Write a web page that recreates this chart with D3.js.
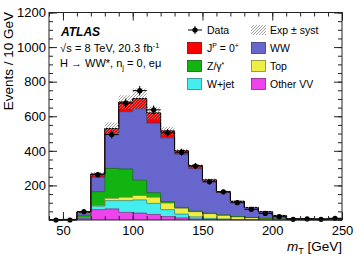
<!DOCTYPE html>
<html><head><meta charset="utf-8">
<script src="https://cdn.jsdelivr.net/npm/d3@7"></script>
<style>body{margin:0;background:#fff} svg{display:block} text{font-family:"Liberation Sans",Arial,sans-serif;fill:#000}</style>
</head><body><svg id="c" width="357" height="257"></svg>
<script>
// bin lower edges (GeV), 10 GeV bins
const binLow   = [40,50,60,70,80,90,100,110,120,130,140,150,160,170,180,190,200,210,220,230,240];
const otherVV  = [0,0.5,9,60,64,44,40,32,20,12,6,3,2,1,1,0.5,0.3,0.2,0.2,0.1,0.1];
const wjet     = [0,0.5,4,20,48,68,76,64,40,22,12,6,4,2,1,1,0.5,0.3,0.2,0.2,0.2];
const topq     = [0,0.2,2,4,14,20,26,36,38,34,30,28,22,16,12,8,5,2,2,1.5,2];
const zgamma   = [0,1,10,80,172,163,88,26,8,5,3,2,1,1,0.5,0.3,0.2,0.1,0.1,0.1,0.1];
const ww       = [0,1,20,84,204,332,414,403,369,308,246,186,130,86,57,38,20,4,4,3.5,5];
const higgs    = [0,0,1,18,27,55,58,58,40,19,17,7,4,2,1,0.5,0.3,0.1,0.1,0.1,0.1];
const dataVals = [0,0,48,262,494,676,748,637,504,392,312,221,163,100,62,38,19,4,6,4,10];
const systUnc  = [0,0.5,4,12,35,40,58,36,24,12,10,8,6,5,4,3,2,1,1,1,1];
const xTicks   = [50,100,150,200,250];
const yTicks   = [200,400,600,800,1000,1200];

const layers = [
  {key:"otherVV", vals:otherVV, color:"#ee44ee", label:"Other VV"},
  {key:"wjet",    vals:wjet,    color:"#44eeee", label:"W+jet"},
  {key:"top",     vals:topq,    color:"#eeee44", label:"Top"},
  {key:"zgamma",  vals:zgamma,  color:"#11b411", label:"Z/γ*"},
  {key:"ww",      vals:ww,      color:"#6666cc", label:"WW"},
  {key:"higgs",   vals:higgs,   color:"#ff0000", label:"JP"}
];

const svg = d3.select("#c");
const L=49, R=342, T=12.5, B=220, binW=10;
const x = d3.scaleLinear().domain([40,250]).range([L,R]);
const y = d3.scaleLinear().domain([0,1200]).range([B,T]);

const defs = svg.append("defs");
const pat = defs.append("pattern").attr("id","hatch").attr("patternUnits","userSpaceOnUse")
  .attr("width",3).attr("height",3);
pat.append("path").attr("d","M-1,1 l2,-2 M0,3 l3,-3 M2,4 l2,-2").attr("stroke","#8a8a8a").attr("stroke-width",0.8);

const rows = binLow.map((b,i)=>{const r={lo:b}; layers.forEach(l=>r[l.key]=l.vals[i]); return r;});
const stack = d3.stack().keys(layers.map(l=>l.key))(rows);

const pts = s => s.flatMap((d,i)=>[{x:binLow[i],y0:d[0],y1:d[1]},{x:binLow[i]+binW,y0:d[0],y1:d[1]}]);
const area = d3.area().x(d=>x(d.x)).y0(d=>y(d.y0)).y1(d=>y(d.y1));
const line = d3.line().x(d=>x(d.x)).y(d=>y(d.y1));

const g = svg.append("g");
stack.forEach((s,k)=>{
  const p = pts(s);
  g.append("path").attr("d",area(p)).attr("fill",layers[k].color);
});
stack.forEach((s,k)=>{
  const p = pts(s);
  g.append("path").attr("d",line(p)).attr("fill","none")
   .attr("stroke", d3.color(layers[k].color).darker(1.6)).attr("stroke-width",0.8);
});
// total outline
const totals = binLow.map((b,i)=>layers.reduce((a,l)=>a+l.vals[i],0));
const totPts = totals.flatMap((t,i)=>[{x:binLow[i],y1:t},{x:binLow[i]+binW,y1:t}]);
g.append("path").attr("d",line(totPts)).attr("fill","none").attr("stroke","#000").attr("stroke-width",1);

// uncertainty hatch
const uncPts = totals.flatMap((t,i)=>[{x:binLow[i],y0:Math.max(0,t-systUnc[i]),y1:t+systUnc[i]},{x:binLow[i]+binW,y0:Math.max(0,t-systUnc[i]),y1:t+systUnc[i]}]);
g.append("path").attr("d",area(uncPts)).attr("fill","url(#hatch)");

// data
const dg = svg.append("g");
binLow.forEach((b,i)=>{
  const cx = x(b+binW/2), cy = y(dataVals[i]), e = Math.sqrt(dataVals[i]);
  dg.append("line").attr("x1",x(b)).attr("x2",x(b+binW)).attr("y1",cy).attr("y2",cy).attr("stroke","#000").attr("stroke-width",1);
  if(e>0) dg.append("line").attr("x1",cx).attr("x2",cx).attr("y1",y(dataVals[i]+e)).attr("y2",y(dataVals[i]-e)).attr("stroke","#000").attr("stroke-width",1);
  dg.append("circle").attr("cx",cx).attr("cy",cy).attr("r",2.6).attr("fill","#000");
});

// frame & axes
const ax = svg.append("g").attr("font-size",13);
const frameCol="#222";
function styleAxis(sel){sel.select(".domain").remove(); sel.selectAll("line").attr("stroke",frameCol);
  sel.selectAll("text").attr("font-family",'"Liberation Sans",Arial,sans-serif').attr("font-size",13).attr("fill","#000");}
ax.append("g").attr("transform",`translate(0,${B})`).call(d3.axisBottom(x).tickValues(xTicks).tickSize(-8).tickPadding(6).tickFormat(d3.format("d"))).call(styleAxis);
ax.append("g").attr("transform",`translate(0,${B})`).call(d3.axisBottom(x).tickValues(d3.range(40,251,10)).tickSize(-4).tickFormat("")).call(styleAxis);
ax.append("g").attr("transform",`translate(0,${T})`).call(d3.axisTop(x).tickValues(xTicks).tickSize(-8).tickFormat("")).call(styleAxis);
ax.append("g").attr("transform",`translate(0,${T})`).call(d3.axisTop(x).tickValues(d3.range(40,251,10)).tickSize(-4).tickFormat("")).call(styleAxis);
ax.append("g").attr("transform",`translate(${L},0)`).call(d3.axisLeft(y).tickValues(yTicks).tickSize(-8).tickPadding(3).tickFormat(d3.format("d"))).call(styleAxis);
ax.append("g").attr("transform",`translate(${L},0)`).call(d3.axisLeft(y).tickValues(d3.range(0,1201,50)).tickSize(-4).tickFormat("")).call(styleAxis);
ax.append("g").attr("transform",`translate(${R},0)`).call(d3.axisRight(y).tickValues(yTicks).tickSize(-8).tickFormat("")).call(styleAxis);
ax.append("g").attr("transform",`translate(${R},0)`).call(d3.axisRight(y).tickValues(d3.range(0,1201,50)).tickSize(-4).tickFormat("")).call(styleAxis);
svg.append("rect").attr("x",L).attr("y",T).attr("width",R-L).attr("height",B-T).attr("fill","none").attr("stroke",frameCol).attr("stroke-width",1);

// axis titles
const xt = svg.append("text").attr("x",R).attr("y",251).attr("text-anchor","end").attr("font-size",13.5);
xt.append("tspan").attr("font-style","italic").text("m");
xt.append("tspan").attr("font-size",9).attr("dy",3).text("T");
xt.append("tspan").attr("dy",-3).text(" [GeV]");
svg.append("text").attr("transform","translate(12.5,12) rotate(-90)").attr("text-anchor","end").attr("font-size",13.5).text("Events / 10 GeV");

// labels
svg.append("text").attr("x",61).attr("y",36).attr("font-size",12).attr("font-weight","bold").attr("font-style","italic").text("ATLAS");
const t2 = svg.append("text").attr("x",60).attr("y",52).attr("font-size",11).attr("letter-spacing",0.1);
t2.append("tspan").text("√s = 8 TeV, 20.3 fb");
t2.append("tspan").attr("font-size",7.5).attr("dy",-4).text("-1");
const t3 = svg.append("text").attr("x",60).attr("y",67).attr("font-size",11);
t3.append("tspan").text("H → WW*, n");
t3.append("tspan").attr("font-size",7.5).attr("dy",3).text("j");
t3.append("tspan").attr("dy",-3).text(" = 0, eμ");

// legend
const lg = svg.append("g").attr("font-size",10.5);
const rowY = [30,48,66,84];
// Data
lg.append("line").attr("x1",188).attr("x2",202).attr("y1",rowY[0]).attr("y2",rowY[0]).attr("stroke","#000");
lg.append("line").attr("x1",195).attr("x2",195).attr("y1",rowY[0]-4).attr("y2",rowY[0]+4).attr("stroke","#000");
lg.append("circle").attr("cx",195).attr("cy",rowY[0]).attr("r",2.6).attr("fill","#000");
lg.append("text").attr("x",207).attr("y",rowY[0]+3.8).text("Data");
lg.append("rect").attr("x",251).attr("y",rowY[0]-5).attr("width",15).attr("height",10).attr("fill","url(#hatch)");
lg.append("text").attr("x",270).attr("y",rowY[0]+3.8).text("Exp ± syst");
const legendItems = [
  {k:5,col:0,row:1},{k:4,col:1,row:1},{k:3,col:0,row:2},{k:2,col:1,row:2},{k:1,col:0,row:3},{k:0,col:1,row:3}
];
legendItems.forEach(it=>{
  const bx = it.col? 251:187, tx = it.col?270:207, cy=rowY[it.row];
  lg.append("rect").attr("x",bx+0.5).attr("y",cy-5.5).attr("width",14).attr("height",11)
    .attr("fill",layers[it.k].color).attr("stroke",d3.color(layers[it.k].color).darker(1.6)).attr("stroke-width",0.8);
  const t = lg.append("text").attr("x",tx).attr("y",cy+3.8);
  if(layers[it.k].key==="higgs"){
    t.append("tspan").text("J");
    t.append("tspan").attr("font-size",7).attr("dy",-4).text("P");
    t.append("tspan").attr("dy",4).text(" = 0");
    t.append("tspan").attr("font-size",7).attr("dy",-4).text("+");
  } else if(layers[it.k].key==="zgamma"){
    t.append("tspan").text("Z/γ");
    t.append("tspan").attr("font-size",7).attr("dy",-3).text("*");
  } else t.text(layers[it.k].label);
});
</script></body></html>
